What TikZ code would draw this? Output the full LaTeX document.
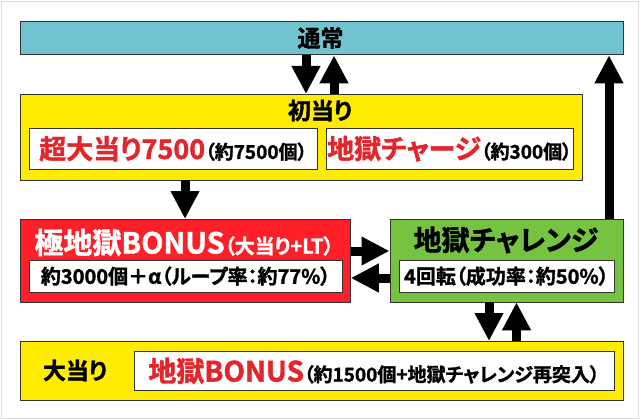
\documentclass[tikz,border=0pt]{standalone}
\usepackage{fontspec}
\setmainfont{Noto Sans CJK JP}[RawFeature={+palt}, BoldFont={Noto Sans CJK JP Bold}, BoldFeatures={FakeBold=1.5}]
\usetikzlibrary{arrows.meta}
\definecolor{cteal}{HTML}{70C3CF}
\definecolor{cyel}{HTML}{FFEC00}
\definecolor{cred}{HTML}{FF1F28}
\definecolor{cgreen}{HTML}{76C241}
\definecolor{tred}{HTML}{E3262C}
\newcommand\myfs[1]{\fontsize{#1pt}{#1pt}\selectfont}
\tikzset{
  frame/.style={draw=black!80, line width=0.8pt, inner sep=0pt, anchor=north west},
  wbox/.style={frame, fill=white},
  lbl/.style={inner sep=0pt, font=\bfseries},
  arr/.style={line width=9pt, -{Triangle[length=28pt,width=27pt]}},
}
\begin{document}
\begin{tikzpicture}[x=1pt,y=-1pt]
\useasboundingbox (0,0) rectangle (640,420);
\draw[draw=black!13, line width=1.5pt] (1.5,1.5) rectangle (638.5,418.5);
% boxes
\node[frame, fill=cteal, minimum width=603pt, minimum height=33pt] (tsujo) at (19.5,21.5) {};
\node[lbl] (tsujoT) at (320.5,38) {\myfs{23}通常};
\node[frame, fill=cyel, minimum width=562pt, minimum height=85.5pt] (hatsu) at (19.5,94) {};
\node[lbl] (hatsuT) at (320,110.5) {\myfs{23}初当り};
\node[wbox, minimum width=287.5pt, minimum height=41.5pt] (sl) at (29,127.5) {};
\node[lbl] (slT) at (sl.center) {\textcolor{tred}{\myfs{27}超大当り7500}\myfs{19}（約7500個）};
\node[wbox, minimum width=247pt, minimum height=41.5pt] (sr) at (325.5,127.5) {};
\node[lbl] (srT) at (sr.center) {\textcolor{tred}{\myfs{27}地獄チャージ}\myfs{19}（約300個）};
\node[frame, fill=cred, minimum width=330.5pt, minimum height=82.5pt] (goku) at (19.5,219) {};
\node[lbl, text=white] (gokuT) at (184,242.5) {\myfs{29}極地獄BONUS\myfs{20}（大当り+LT）};
\node[wbox, minimum width=312.5pt, minimum height=31.5pt] (gi) at (29,260) {};
\node[lbl] (giT) at (gi.center) {\myfs{20}約3000個＋α（ループ率：約77\%）};
\node[frame, fill=cgreen, minimum width=233pt, minimum height=82.5pt] (chal) at (389.5,219) {};
\node[lbl] (chalT) at (506,240) {\myfs{28}地獄チャレンジ};
\node[wbox, minimum width=215pt, minimum height=31.5pt] (ci) at (398.5,260) {};
\node[lbl] (ciT) at (ci.center) {\myfs{20}4回転（成功率：約50\%）};
\node[frame, fill=cyel, minimum width=603pt, minimum height=59pt] (oo) at (19.5,341) {};
\node[lbl] (ooT) at (75,370.5) {\myfs{23}大当り};
\node[wbox, minimum width=480pt, minimum height=39pt] (oi) at (133.5,351) {};
\node[lbl] (oiT) at (oi.center) {\textcolor{tred}{\myfs{28}地獄BONUS}\myfs{19}（約1500個+地獄チャレンジ再突入）};
% arrows
\draw[arr] ([xshift=286.5pt]tsujo.south west) -- ([xshift=286.5pt]hatsu.north west);
\draw[arr] ([xshift=314.5pt]hatsu.north west) -- ([xshift=314.5pt]tsujo.south west);
\draw[arr] ([xshift=165.5pt]hatsu.south west) -- ([xshift=165.5pt]goku.north west);
\draw[arr] ([yshift=-32pt]goku.north east) -- ([yshift=-32pt]chal.north west);
\draw[arr] ([yshift=-59pt]chal.north west) -- ([yshift=-59pt]goku.north east);
\coordinate (c6) at ([xshift=219.5pt]chal.north west);
\draw[arr] (c6) -- (c6 |- tsujo.south);
\coordinate (c7) at ([xshift=99.5pt]chal.south west);
\draw[arr] (c7) -- (c7 |- oo.north);
\coordinate (c8) at ([xshift=127pt]chal.south west);
\draw[arr] (c8 |- oo.north) -- (c8);
\end{tikzpicture}
\end{document}
